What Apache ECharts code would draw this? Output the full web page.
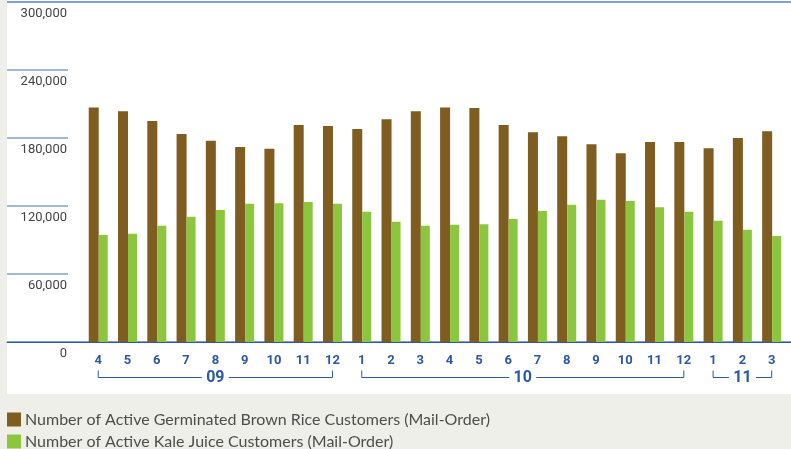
<!DOCTYPE html>
<html>
<head>
<meta charset="utf-8">
<script src="https://cdn.jsdelivr.net/npm/echarts@6/dist/echarts.min.js"></script>
<style>
  html, body { margin: 0; padding: 0; background: #efefea; }
  #chart { width: 791px; height: 449px; }
</style>
</head>
<body>
<div id="chart"></div>
<script>
// Monthly categories, April 2009 – March 2011
const monthLabels = ['4', '5', '6', '7', '8', '9', '10', '11', '12',
  '1', '2', '3', '4', '5', '6', '7', '8', '9', '10', '11', '12',
  '1', '2', '3'];

// Year groups shown as brackets under the month labels
const yearLabels = ['09', '10', '11'];
const yearStart = [0, 9, 21];
const yearEnd = [8, 20, 23];

// Active customers (mail-order)
const brownRice = [207000, 203500, 195000, 183500, 177500, 172000, 170500, 191500, 190500,
  188000, 196500, 203500, 207000, 206500, 191500, 185000, 181500, 174500, 166500, 176500, 176500,
  171000, 180000, 186000];
const kaleJuice = [94500, 95500, 102500, 110500, 116500, 122000, 122500, 123500, 122000,
  115000, 106000, 102500, 103500, 104000, 108500, 115500, 121000, 125500, 124500, 119000, 115000,
  107000, 99000, 93500];

const yTicks = { min: 0, max: 300000, interval: 60000 };

const seriesNames = [
  'Number of Active Germinated Brown Rice Customers (Mail-Order)',
  'Number of Active Kale Juice Customers (Mail-Order)'
];

const BROWN = '#7f5c1f';
const GREEN = '#8cc63f';
const BLUE = '#2c58a6';
const LIGHT_BLUE = '#809fd4';
const NARROW = 'Roboto, "DejaVu Sans Condensed", sans-serif';

const chart = echarts.init(document.getElementById('chart'), null, { renderer: 'canvas' });

function renderYearBracket(params, api) {
  const i = params.dataIndex;
  const a = api.coord([yearStart[i], 0]);
  const b = api.coord([yearEnd[i], 0]);
  const y = a[1] + 35.5;
  const tickH = 7;
  const cx = (a[0] + b[0]) / 2;
  const gap = 13.5;
  const lineStyle = { stroke: BLUE, lineWidth: 1, fill: null };
  return {
    type: 'group',
    children: [
      { type: 'polyline', shape: { points: [[a[0], y - tickH], [a[0], y], [cx - gap, y]] }, style: lineStyle },
      { type: 'polyline', shape: { points: [[cx + gap, y], [b[0], y], [b[0], y - tickH]] }, style: lineStyle },
      {
        type: 'text',
        style: {
          x: cx, y: y, text: yearLabels[i], align: 'center', verticalAlign: 'middle',
          fill: BLUE, font: 'bold 16px ' + NARROW
        }
      }
    ]
  };
}

chart.setOption({
  backgroundColor: '#efefea',
  animation: false,
  graphic: [{
    type: 'rect', z: -100, silent: true,
    shape: { x: 7, y: 0, width: 784, height: 394 },
    style: { fill: '#ffffff' }
  }],
  legend: {
    orient: 'vertical',
    left: 7,
    top: 411.5,
    height: 60,
    padding: 0,
    itemWidth: 14,
    itemHeight: 14,
    itemGap: 6,
    icon: 'rect',
    textStyle: { color: '#4d4d4d', fontSize: 16, fontFamily: 'Lato, "Noto Sans", sans-serif', padding: [0, 0, 0, -1] },
    data: seriesNames
  },
  grid: [
    // bars
    { left: 83.6, right: 4.7, top: 2, bottom: 107 },
    // full-width frame: baseline and top rule
    { left: 7, right: 0, top: 2, bottom: 107 },
    // value scale on the left
    { left: 7, width: 61, top: 2, bottom: 107 }
  ],
  xAxis: [
    {
      gridIndex: 0, type: 'category', data: monthLabels,
      axisLine: { show: false }, axisTick: { show: false },
      axisLabel: { color: BLUE, fontWeight: 'bold', fontSize: 13, fontFamily: NARROW, margin: 12, interval: 0 }
    },
    {
      gridIndex: 1, type: 'value', min: 0, max: 1,
      axisLine: { show: true, lineStyle: { color: BLUE, width: 1.2 } },
      axisTick: { show: false }, axisLabel: { show: false }, splitLine: { show: false }
    },
    { gridIndex: 2, type: 'value', min: 0, max: 1, show: false }
  ],
  yAxis: [
    { gridIndex: 0, type: 'value', min: yTicks.min, max: yTicks.max, show: false },
    {
      gridIndex: 1, type: 'value', min: yTicks.min, max: yTicks.max, interval: yTicks.max,
      axisLine: { show: false }, axisTick: { show: false }, axisLabel: { show: false },
      splitLine: { show: true, lineStyle: { color: LIGHT_BLUE, width: 2 } }
    },
    {
      gridIndex: 2, type: 'value', position: 'right',
      min: yTicks.min, max: yTicks.max, interval: yTicks.interval,
      axisLine: { show: false }, axisTick: { show: false },
      splitLine: { show: true, lineStyle: { color: LIGHT_BLUE, width: 1.5 } },
      axisLabel: {
        inside: true, margin: 1, color: '#444444', fontSize: 13, fontFamily: NARROW,
        verticalAlign: 'top', padding: [5, 0, 0, 0],
        formatter: v => v.toLocaleString('en-US')
      }
    }
  ],
  series: [
    {
      name: seriesNames[0], type: 'bar', xAxisIndex: 0, yAxisIndex: 0,
      data: brownRice, barWidth: 10, barGap: '0%',
      itemStyle: { color: BROWN }
    },
    {
      name: seriesNames[1], type: 'bar', xAxisIndex: 0, yAxisIndex: 0,
      data: kaleJuice, barWidth: 9, barGap: '0%',
      itemStyle: { color: GREEN }
    },
    {
      name: 'years', type: 'custom', xAxisIndex: 0, yAxisIndex: 0,
      clip: false, silent: true,
      data: yearLabels.map((_, i) => [yearStart[i], 0]),
      renderItem: renderYearBracket
    }
  ]
});
</script>
</body>
</html>
